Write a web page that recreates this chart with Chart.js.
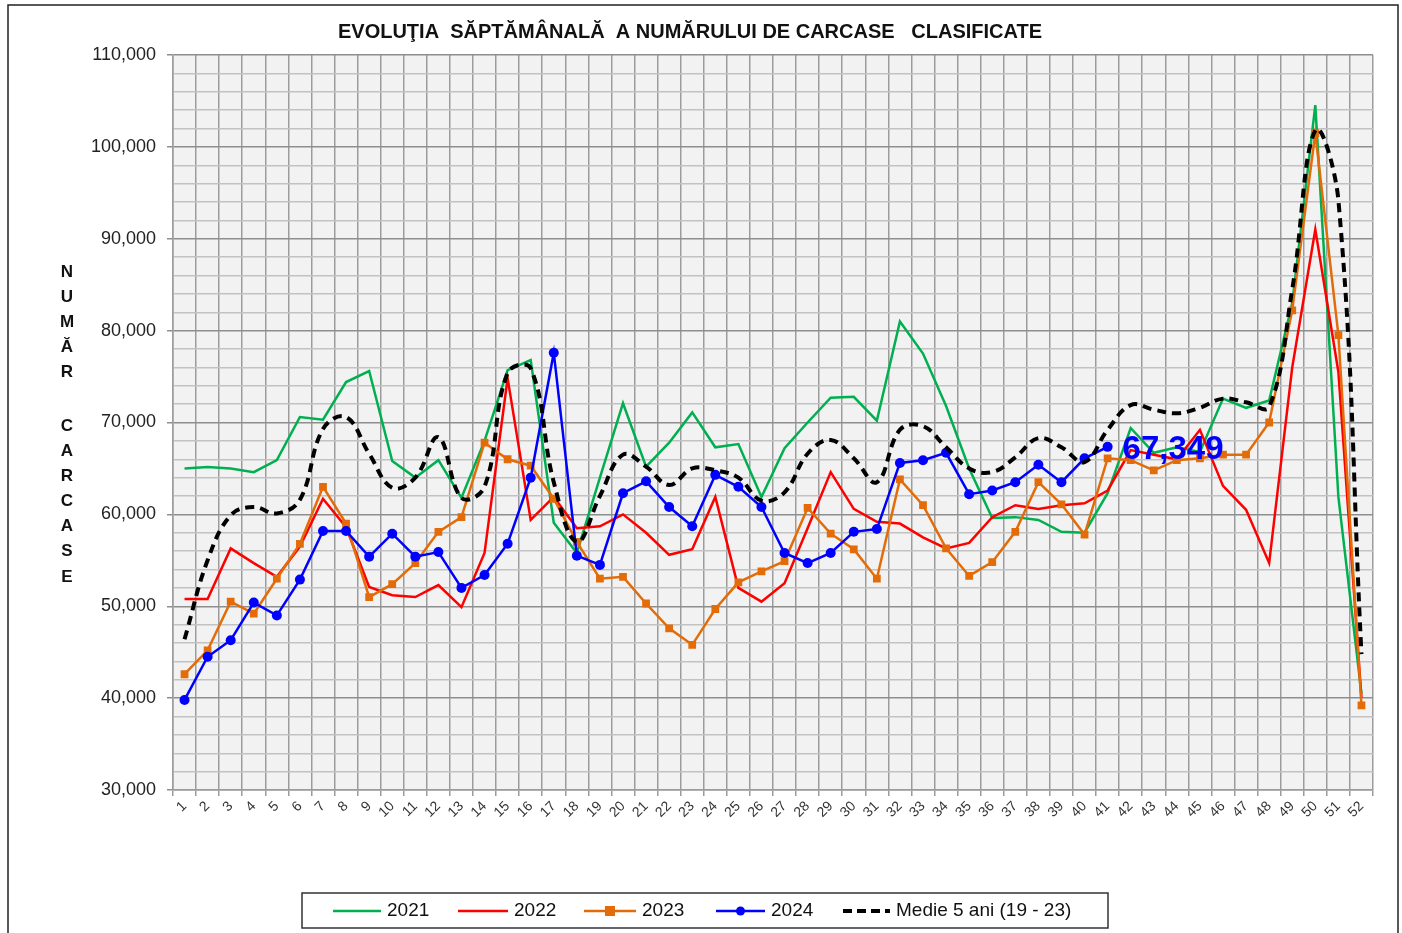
<!DOCTYPE html>
<html>
<head>
<meta charset="utf-8">
<script src="https://cdn.jsdelivr.net/npm/chart.js@4.4.0/dist/chart.umd.min.js"></script>
<style>
  body { margin: 0; background: #fff; }
  #wrap { width: 1402px; height: 933px; }
</style>
</head>
<body>
<div id="wrap"><canvas id="carcase" width="1402" height="933"></canvas></div>
<script>
var weeks = ['1','2','3','4','5','6','7','8','9','10','11','12','13','14','15','16','17','18','19','20',
  '21','22','23','24','25','26','27','28','29','30','31','32','33','34','35','36','37','38','39','40',
  '41','42','43','44','45','46','47','48','49','50','51','52'];

var y2021 = [65000,65150,65000,64600,65900,70600,70300,74400,75600,65800,64000,65900,61800,68000,75700,76800,
  59100,55800,64000,72100,65200,67800,71100,67300,67650,61900,67200,70000,72700,72800,70200,81000,77500,71800,
  65000,59600,59700,59400,58100,58000,62300,69400,66700,67300,66800,72600,71600,72400,83000,104550,61900,40500];
var y2022 = [50800,50800,56300,54700,53200,56500,61700,58600,52100,51200,51000,52300,49900,55800,74800,59400,
  61900,58500,58700,60000,58000,55600,56200,61900,52000,50500,52500,58500,64600,60600,59200,59000,57500,56300,
  56900,59700,61000,60600,61000,61200,62600,67000,66500,66000,69200,63100,60500,54700,76000,91000,75500,40000];
var y2023 = [42600,45200,50500,49200,53000,56800,63000,59000,51000,52400,54700,58100,59700,67800,66000,65300,
  61700,57000,53000,53200,50300,47600,45800,49700,52600,53800,54900,60700,57900,56200,53000,63800,61000,56300,
  53300,54800,58100,63500,61100,57800,66100,65900,64800,65900,66100,66500,66500,70000,82200,101500,79500,39200];
var y2024 = [39800,44500,46300,50400,49000,52900,58200,58200,55400,57900,55400,55900,52000,53400,56800,64000,
  77600,55500,54500,62300,63600,60800,58700,64300,63000,60800,55800,54700,55800,58100,58400,65600,65900,66700,
  62200,62600,63500,65400,63500,66100,67349];
var medie = [46400,55000,59900,60800,60100,61600,69300,70600,66600,62900,64000,68400,61800,63000,75400,75900,
  63500,57000,62000,66500,65200,63200,65000,64800,64000,61500,62400,66600,68100,66100,63500,69200,69600,67300,
  65000,64600,66200,68300,67300,65700,69200,71900,71400,71000,71600,72600,72200,71700,84500,101800,94200,44800];

var seriesNames = ['2021', '2022', '2023', '2024', 'Medie 5 ani (19 - 23)'];
var seriesColors = ['#00b050', '#ff0000', '#e36c09', '#0000ff', '#000000'];
var lastLabel = '67,349';

var FONT = '"Liberation Sans", Arial, sans-serif';

var frame = {
  id: 'frame',
  beforeDraw: function(chart){
    var c = chart.ctx, a = chart.chartArea;
    c.save();
    c.fillStyle = '#ffffff';
    c.fillRect(0, 0, chart.width, chart.height);
    c.strokeStyle = '#222';
    c.lineWidth = 1.5;
    c.strokeRect(8, 5, 1390, 960);
    c.fillStyle = '#f2f2f2';
    c.fillRect(a.left, a.top, a.right - a.left, a.bottom - a.top);
    c.restore();
  },
  afterDraw: function(chart){
    var c = chart.ctx;
    c.save();
    // title
    c.fillStyle = '#111';
    c.font = 'bold 20px ' + FONT;
    c.textAlign = 'center';
    c.textBaseline = 'middle';
    c.fillText('EVOLUŢIA  SĂPTĂMÂNALĂ  A NUMĂRULUI DE CARCASE   CLASIFICATE', 690, 32);

    // vertical axis title, one letter per line
    var letters = ['N','U','M','Ă','R','C','A','R','C','A','S','E'];
    var ys = [272,297,322,347,372,426,451,476,501,526,551,577];
    c.font = 'bold 17px ' + FONT;
    for (var i = 0; i < letters.length; i++){
      c.fillText(letters[i], 67, ys[i]);
    }

    // value label on last 2024 point
    var meta = chart.getDatasetMeta(3);
    var pt = meta.data[meta.data.length - 1];
    c.fillStyle = '#0000ff';
    c.font = 'bold 33px ' + FONT;
    c.textAlign = 'left';
    c.fillText(lastLabel, pt.x + 15, pt.y + 3);

    // legend box
    c.strokeStyle = '#333';
    c.lineWidth = 1.5;
    c.strokeRect(302, 893, 806, 35);
    var lx = [333, 458, 584, 716, 843];
    var lw = [48, 50, 52, 49, 47];
    var ly = 911;
    c.font = '19px ' + FONT;
    c.textBaseline = 'middle';
    for (var k = 0; k < seriesNames.length; k++){
      c.strokeStyle = seriesColors[k];
      c.lineWidth = k == 4 ? 4 : 2.5;
      c.setLineDash(k == 4 ? [9, 5] : []);
      c.beginPath();
      c.moveTo(lx[k], ly);
      c.lineTo(lx[k] + lw[k], ly);
      c.stroke();
      c.setLineDash([]);
      c.fillStyle = seriesColors[k];
      var mx = lx[k] + lw[k] / 2;
      if (k == 2){
        c.fillRect(mx - 5, ly - 5, 10, 10);
      } else if (k == 3){
        c.beginPath();
        c.arc(mx, ly, 4.5, 0, Math.PI * 2);
        c.fill();
      }
      c.fillStyle = '#111';
      c.fillText(seriesNames[k], lx[k] + lw[k] + 6, ly);
    }
    c.restore();
  }
};

function ds(idx, data, extra){
  var d = {
    label: seriesNames[idx],
    data: data,
    borderColor: seriesColors[idx],
    backgroundColor: seriesColors[idx],
    borderWidth: 2.5,
    pointRadius: 0,
    tension: 0,
    order: 5 - idx
  };
  for (var k in extra) d[k] = extra[k];
  return d;
}

var ctx = document.getElementById('carcase').getContext('2d');
var chart = new Chart(ctx, {
  type: 'line',
  data: {
    labels: weeks,
    datasets: [
      ds(0, y2021, {}),
      ds(1, y2022, {}),
      ds(2, y2023, {pointStyle: 'rect', pointRadius: 5.5, pointBorderWidth: 0}),
      ds(3, y2024, {pointStyle: 'circle', pointRadius: 5, pointBorderWidth: 0}),
      ds(4, medie, {borderWidth: 4, borderDash: [9, 6], tension: 0.4})
    ]
  },
  options: {
    responsive: false,
    animation: false,
    layout: { padding: { left: 80, top: 55, right: 29, bottom: 0 } },
    plugins: {
      legend: { display: false },
      title: { display: false },
      tooltip: { enabled: false }
    },
    scales: {
      x: {
        type: 'category',
        offset: true,
        afterFit: function(s){ s.height = 143; },
        grid: { offset: true, color: '#9c9c9c', lineWidth: 1.5, tickLength: 6 },
        border: { color: '#9c9c9c', width: 1.5 },
        ticks: {
          autoSkip: false,
          minRotation: 45,
          maxRotation: 45,
          padding: 2,
          color: '#333',
          font: { family: FONT, size: 14 }
        }
      },
      y: {
        min: 30000,
        max: 110000,
        afterFit: function(s){ s.width = 93; },
        border: { color: '#9c9c9c', width: 1.5 },
        grid: {
          lineWidth: 1.5,
          tickLength: 6,
          color: function(c){ return c.tick && c.tick.value % 10000 === 0 ? '#8e8e8e' : '#c2c2c2'; },
          tickColor: function(c){ return c.tick && c.tick.value % 10000 === 0 ? '#8e8e8e' : 'rgba(0,0,0,0)'; }
        },
        ticks: {
          stepSize: 2000,
          autoSkip: false,
          padding: 11,
          color: '#222',
          font: { family: FONT, size: 18 },
          callback: function(v){ return v % 10000 === 0 ? v.toLocaleString('en-US') : ''; }
        }
      }
    }
  },
  plugins: [frame]
});
</script>
</body>
</html>
